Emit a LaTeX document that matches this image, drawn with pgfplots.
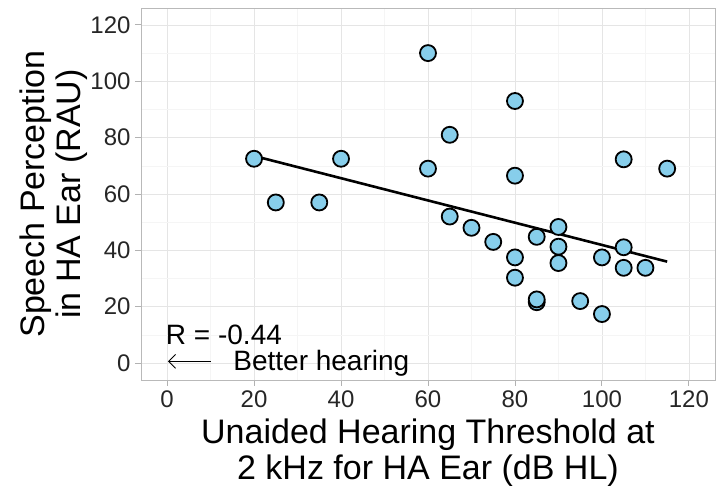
\documentclass[border=0pt]{standalone}
\usepackage{pgfplots}
\pgfplotsset{compat=1.18}
\usepackage{fontspec}
\setmainfont{Liberation Sans}
\usetikzlibrary{arrows.meta}

\definecolor{ptfill}{RGB}{135,206,235}

\begin{document}
\begin{tikzpicture}
\begin{axis}[
  scale only axis,
  width=574pt, height=372pt,
  xmin=-6, xmax=126, ymin=-6, ymax=126,
  xtick={0,20,...,120}, ytick={0,20,...,120},
  minor xtick={10,30,...,110}, minor ytick={10,30,...,110},
  grid=both,
  major grid style={gray!20, line width=0.8pt},
  minor grid style={gray!8, line width=0.6pt},
  axis line style={gray!55, line width=0.8pt},
  tick align=outside,
  major tick length=6pt, minor tick length=0pt,
  tick style={gray!60, line width=0.9pt},
  xtick pos=bottom, ytick pos=left,
  /pgf/number format/assume math mode=true,
  tick label style={font=\fontsize{24}{26}\selectfont, text=black!85},
  xticklabel style={yshift=-1pt},
  yticklabel style={xshift=-1pt},
  xlabel={Unaided Hearing Threshold at\\2 kHz for HA Ear (dB HL)},
  ylabel={Speech Perception\\in HA Ear (RAU)},
  xlabel style={font=\fontsize{34}{36}\selectfont, align=center, yshift=-4pt},
  ylabel style={font=\fontsize{34}{36}\selectfont, align=center, yshift=-4pt},
  clip=false,
]
% fitted trend line
\addplot[black, line width=2.6pt] coordinates {(20,73.5) (115,36)};
% individual listeners
\addplot[only marks, mark=*, mark size=8pt,
  mark options={fill=ptfill, draw=black, line width=1.8pt}]
  coordinates {
  (20,72.5) (25,57) (35,57) (40,72.5)
  (60,110) (60,69) (65,81) (65,52) (70,48) (75,43)
  (80,93) (80,66.5) (80,37.5) (80,30.3)
  (85,44.8) (85,21.6) (85,22.6)
  (90,48.3) (90,41.3) (90,35.5) (95,22)
  (100,37.5) (100,17.4)
  (105,72.3) (105,41.1) (105,33.8) (110,33.8) (115,69)
  };
\node[anchor=base west, font=\fontsize{28}{30}\selectfont, inner sep=0pt]
  at (axis cs:-0.3,6.6) {R = -0.44};
\draw[line width=0.9pt, {Straight Barb[length=7pt, width=14pt, line width=0.9pt]}-]
  (axis cs:0.2,0.6) -- (axis cs:10,0.6);
\node[anchor=base west, font=\fontsize{28}{30}\selectfont, inner sep=0pt]
  at (axis cs:15.2,-2.6) {Better hearing};
\end{axis}
\pgfresetboundingbox
\path (-141pt,-106pt) rectangle (580pt,380pt);
\end{tikzpicture}
\end{document}
